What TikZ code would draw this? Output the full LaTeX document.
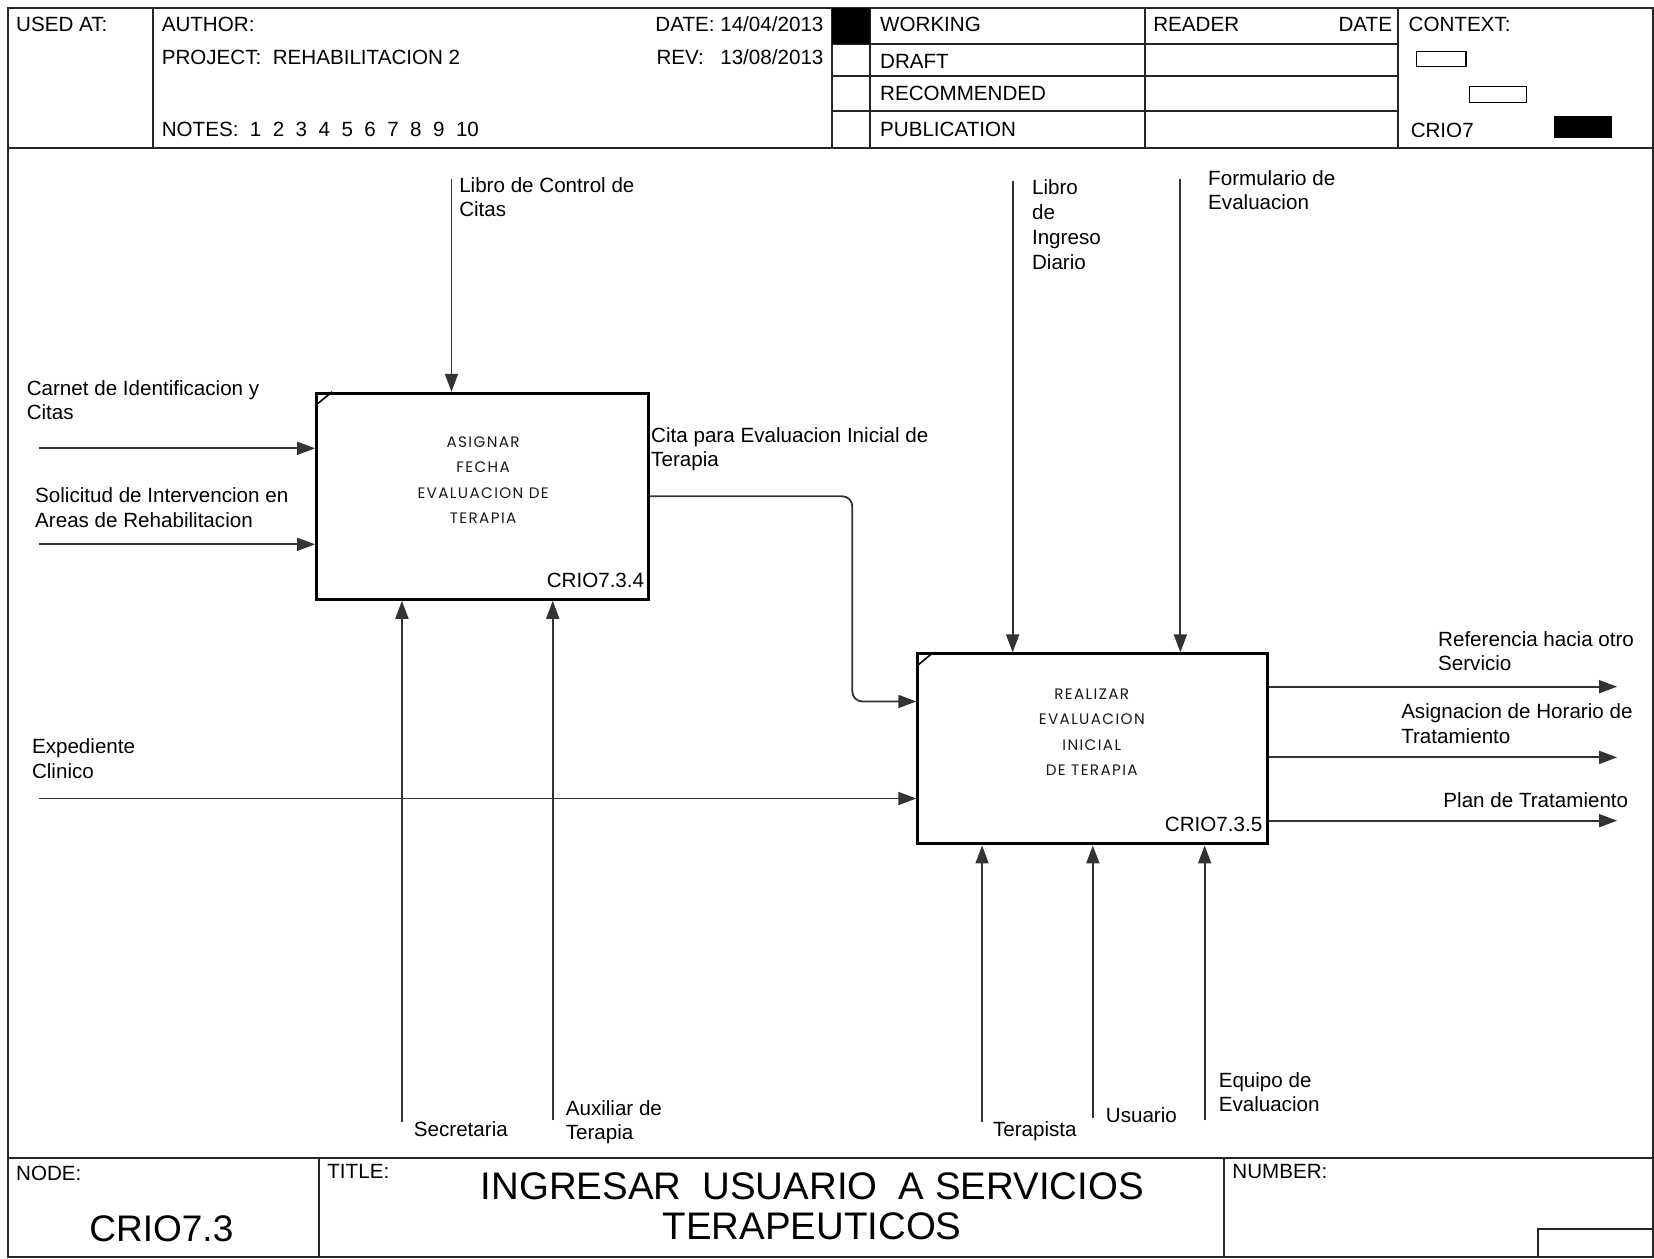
\documentclass[tikz,border=0pt]{standalone}
\usepackage{fontspec}
\setmainfont{Liberation Sans}
\newfontfamily\boxfont[LetterSpace=9]{Poppins}
\usetikzlibrary{positioning,arrows.meta,calc}

\begin{document}
\begin{tikzpicture}[
    x=0.5274pt, y=-0.5274pt,
    frame/.style={line width=1pt, black!85},
    act/.style={rectangle, draw, line width=1.5pt},
    arr/.style={-{Triangle[length=9pt,width=6.5pt]}, line width=0.9pt, black!80},
    lbl/.style={font=\fontsize{10.3}{12.2}\selectfont, align=left,
      inner sep=0pt, anchor=north west},
    hd/.style={font=\fontsize{10.3}{12.2}\selectfont, inner sep=0pt, anchor=west},
    acttext/.style={font=\boxfont\fontsize{7.6}{12.7}\selectfont, align=center, text=black!90},
    actid/.style={font=\fontsize{10.3}{12.2}\selectfont, inner sep=0pt, anchor=east}
  ]
    \useasboundingbox (0,0) rectangle (1568,1193);

    % form
    \draw[frame] (8,8) rectangle (1567,1192);
    \draw[frame] (8,140) -- (1567,140);
    \draw[frame] (8,1098) -- (1567,1098);
    \foreach \xx in {145,789,825,1085,1325}
      \draw[frame] (\xx,8) -- (\xx,140);
    \foreach \yy in {42,72,105}
      \draw[frame] (789,\yy) -- (1325,\yy);
    \fill (789,8) rectangle (825,42);
    \foreach \xx in {302,1160}
      \draw[frame] (\xx,1098) -- (\xx,1192);
    \draw[frame] (1458,1165) rectangle (1567,1192);
    \draw[line width=0.8pt] (1343,49) rectangle (1390,63);
    \draw[line width=0.8pt] (1393,82) rectangle (1447,97);
    \fill (1473,110) rectangle (1528,131);

    \node[hd] (usedat) at (15,23) {USED AT:};
    \node[hd] (author) at (153,23) {AUTHOR:};
    \node[hd] (project) at (153,54) {PROJECT:\ \ REHABILITACION 2};
    \node[hd] (notes) at (153,123) {NOTES:\ \ 1\ \ 2\ \ 3\ \ 4\ \ 5\ \ 6\ \ 7\ \ 8\ \ 9\ \ 10};
    \node[hd, anchor=east] (date) at (781,23) {DATE:\ 14/04/2013};
    \node[hd] (rev) at (622,54) {REV:};
    \node[hd, anchor=east] (revdate) at (781,54) {13/08/2013};
    \node[hd] (working) at (834,23) {WORKING};
    \node[hd] (draft) at (834,58) {DRAFT};
    \node[hd] (recommended) at (834,89) {RECOMMENDED};
    \node[hd] (publication) at (834,123) {PUBLICATION};
    \node[hd] (reader) at (1093,23) {READER};
    \node[hd, anchor=east] (readerdate) at (1320,23) {DATE};
    \node[hd] (context) at (1335,23) {CONTEXT:};
    \node[hd] (ctxnode) at (1337,124) {CRIO7};

    \node[hd, anchor=north west] (nodehd) at (15,1105) {NODE:};
    \node[hd, anchor=north west] (titlehd) at (310,1103) {TITLE:};
    \node[hd, anchor=north west] (numberhd) at (1168,1103) {NUMBER:};
    \node[font=\fontsize{18.5}{20}\selectfont] (nodeid) at (153,1165) {CRIO7.3};
    \node[font=\fontsize{19.2}{20}\selectfont, align=center] (title) at (770,1144)
      {INGRESAR\ \ USUARIO\ \ A SERVICIOS\\TERAPEUTICOS};

    % activities
    \node[act, minimum width=166pt, minimum height=103pt] (asignar) at (457.5,470.5) {};
    \node[acttext] (asignartxt) at (458,455) {ASIGNAR\\FECHA\\EVALUACION DE\\TERAPIA};
    \node[actid] (asignarid) at (611,550) {CRIO7.3.4};
    \draw[line width=0.8pt] ([yshift=-7pt]asignar.north west) -- ([xshift=8.5pt]asignar.north west);

    \node[act, minimum width=175pt, minimum height=95pt] (realizar) at (1036,710) {};
    \node[acttext] (realizartxt) at (1035,694) {REALIZAR\\EVALUACION\\INICIAL\\DE TERAPIA};
    \node[actid] (realizarid) at (1197,782) {CRIO7.3.5};
    \draw[line width=0.8pt] ([yshift=-7pt]realizar.north west) -- ([xshift=8.5pt]realizar.north west);

    % inputs
    \coordinate (carnet) at (37,425);
    \coordinate (solicitud) at (37,516);
    \coordinate (expediente) at (37,757);
    \draw[arr] (carnet) -- (carnet -| asignar.west);
    \draw[arr] (solicitud) -- (solicitud -| asignar.west);
    \draw[arr] (expediente) -- (expediente -| realizar.west);
    \node[lbl] (carnetlbl) at (25,360) {Carnet de Identificacion y\\Citas};
    \node[lbl] (solicitudlbl) at (33,462) {Solicitud de Intervencion en\\Areas de Rehabilitacion};
    \node[lbl] (expedientelbl) at (30,700) {Expediente\\Clinico};

    % controls
    \coordinate (librocitas) at (428,170);
    \coordinate (libroingreso) at (960,172);
    \coordinate (formulario) at (1119,170);
    \draw[arr] (librocitas) -- (librocitas |- asignar.north);
    \draw[arr] (libroingreso) -- (libroingreso |- realizar.north);
    \draw[arr] (formulario) -- (formulario |- realizar.north);
    \node[lbl] (librocitaslbl) at (435,168) {Libro de Control de\\Citas};
    \node[lbl, font=\fontsize{10.3}{12.5}\selectfont] (libroingresolbl) at (978,170) {Libro\\de\\Ingreso\\Diario};
    \node[lbl] (formulariolbl) at (1145,161) {Formulario de\\Evaluacion};

    % cita
    \coordinate (jog) at (808,665);
    \draw[arr, rounded corners=5pt] (asignar.east) -| (jog) -- (jog -| realizar.west);
    \node[lbl] (citalbl) at (617,405) {Cita para Evaluacion Inicial de\\Terapia};

    % outputs
    \coordinate (referencia) at (1533,651);
    \coordinate (horario) at (1533,718);
    \coordinate (plan) at (1533,778);
    \draw[arr] (referencia -| realizar.east) -- (referencia);
    \draw[arr] (horario -| realizar.east) -- (horario);
    \draw[arr] (plan -| realizar.east) -- (plan);
    \node[lbl] (referencialbl) at (1363,598) {Referencia hacia otro\\Servicio};
    \node[lbl] (horariolbl) at (1328,667) {Asignacion de Horario de\\Tratamiento};
    \node[lbl] (planlbl) at (1368,751) {Plan de Tratamiento};

    % mechanisms
    \coordinate (secretaria) at (381,1064);
    \coordinate (auxiliar) at (524,1062);
    \coordinate (terapista) at (931,1064);
    \coordinate (usuario) at (1036,1060);
    \coordinate (equipo) at (1142,1062);
    \draw[arr] (secretaria) -- (secretaria |- asignar.south);
    \draw[arr] (auxiliar) -- (auxiliar |- asignar.south);
    \draw[arr] (terapista) -- (terapista |- realizar.south);
    \draw[arr] (usuario) -- (usuario |- realizar.south);
    \draw[arr] (equipo) -- (equipo |- realizar.south);
    \node[lbl] (secretarialbl) at (392,1063) {Secretaria};
    \node[lbl] (auxiliarlbl) at (536,1043) {Auxiliar de\\Terapia};
    \node[lbl] (terapistalbl) at (941,1063) {Terapista};
    \node[lbl] (usuariolbl) at (1048,1050) {Usuario};
    \node[lbl] (equipolbl) at (1155,1016) {Equipo de\\Evaluacion};
  \end{tikzpicture}
\end{document}
